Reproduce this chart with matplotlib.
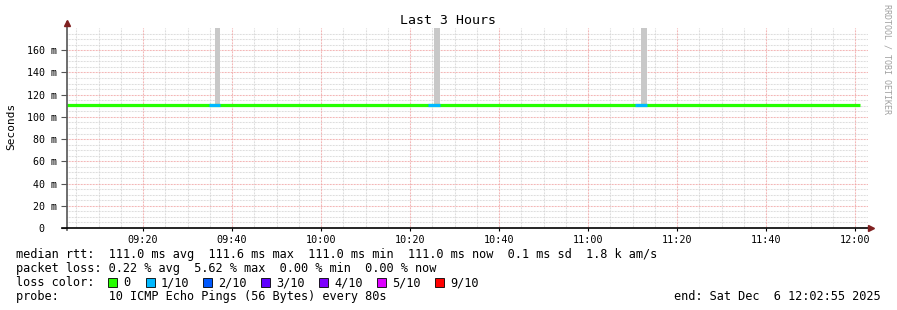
import matplotlib
matplotlib.use("Agg")
import matplotlib.pyplot as plt
from matplotlib.lines import Line2D
from matplotlib.patches import Rectangle

# ---------------- data ----------------
title = "Last 3 Hours"
y_label = "Seconds"
start_time = "09:02:55"
end_time = "12:02:55"
data_end_time = "12:01:05"
median_rtt_ms = 111.0
y_ticks_ms = [0, 20, 40, 60, 80, 100, 120, 140, 160]
y_tick_labels = ["0  ", "20 m", "40 m", "60 m", "80 m", "100 m", "120 m", "140 m", "160 m"]
x_tick_labels = ["09:20", "09:40", "10:00", "10:20", "10:40", "11:00", "11:20", "11:40", "12:00"]
# loss periods (1/10 loss)
loss_starts = ["09:34:50", "10:24:00", "11:10:35"]
loss_ends = ["09:37:20", "10:26:40", "11:13:20"]
# smoke (ping spread) spikes
smoke_starts = ["09:36:05", "10:25:25", "11:12:00"]
smoke_ends = ["09:37:20", "10:26:40", "11:13:20"]
smoke_max_ms = [400.0, 400.0, 400.0]

legend_colors = ["#26ff00", "#00b8ff", "#0059ff", "#5e00ff", "#7e00ff", "#dd00ff", "#ff0000"]
legend_labels = ["0", "1/10", "2/10", "3/10", "4/10", "5/10", "9/10"]

stats_rtt = "median rtt:  111.0 ms avg  111.6 ms max  111.0 ms min  111.0 ms now  0.1 ms sd  1.8 k am/s"
stats_loss = "packet loss: 0.22 % avg  5.62 % max  0.00 % min  0.00 % now"
probe_text = "probe:       10 ICMP Echo Pings (56 Bytes) every 80s"
end_text = "end: Sat Dec  6 12:02:55 2025"
watermark = "RRDTOOL / TOBI OETIKER"


def tmin(s):
    p = [int(v) for v in s.split(":")]
    while len(p) < 3:
        p.append(0)
    return p[0] * 60 + p[1] + p[2] / 60.0


W, H = 897, 310
fig = plt.figure(figsize=(W / 100, H / 100), dpi=100)
fig.patch.set_facecolor("white")

L, R, T, B = 67, 868, 28, 228


def fx(x):
    return x / W


def fy(y):
    return 1 - y / H


ax = fig.add_axes([fx(L), fy(B), fx(R) - fx(L), fy(T) - fy(B)])
ax.set_facecolor("white")
x0, x1 = tmin(start_time), tmin(end_time)
ax.set_xlim(x0, x1)
ax.set_ylim(0, 180)

mono = "DejaVu Sans Mono"

# grid
xt = [tmin(s) for s in x_tick_labels]
minor_x = [t for t in range(int(x0) + 1, int(x1) + 1) if t % 5 == 0 and t not in xt]
minor_y = [v for v in range(5, 180, 5) if v % 20 != 0]
dots = (0, (0.72, 0.72))
for t in minor_x:
    ax.axvline(t, color="#d4d4d4", lw=0.75, ls=dots, zorder=1)
for v in minor_y:
    ax.axhline(v, color="#d4d4d4", lw=0.75, ls=dots, zorder=1)
for t in xt:
    ax.axvline(t, color="#f0a0a0", lw=0.75, ls=dots, zorder=1.5)
for v in y_ticks_ms[1:]:
    ax.axhline(v, color="#f0a0a0", lw=0.75, ls=dots, zorder=1.5)

# smoke
for s, e, m in zip(smoke_starts, smoke_ends, smoke_max_ms):
    ax.fill_between([tmin(s), tmin(e)], [median_rtt_ms] * 2, [m] * 2,
                    color="#c8c8c8", lw=0, zorder=2)

# median line
ax.plot([x0, tmin(data_end_time)], [median_rtt_ms] * 2, color=legend_colors[0],
        lw=2.3, solid_capstyle="butt", zorder=3)
for s, e in zip(loss_starts, loss_ends):
    ax.plot([tmin(s), tmin(e)], [median_rtt_ms] * 2, color=legend_colors[1],
            lw=2.3, solid_capstyle="butt", zorder=4)

for sp in ax.spines.values():
    sp.set_visible(False)

ax.set_xticks(xt)
ax.set_xticklabels(x_tick_labels, fontfamily=mono, fontsize=7.3)
ax.set_yticks(y_ticks_ms)
ax.set_yticklabels(y_tick_labels, fontfamily=mono, fontsize=7.2)
ax.tick_params(axis="x", length=2, pad=3, color="#000000")
ax.tick_params(axis="y", length=4, pad=3, color="#555555")

# axes lines + arrows
fig.add_artist(Line2D([fx(L), fx(L)], [fy(B + 2), fy(22)], color="#555555", lw=1.2))
fig.add_artist(Line2D([fx(62), fx(870)], [fy(B), fy(B)], color="#000000", lw=1.2))
fig.add_artist(Line2D([fx(L)], [fy(23)], marker="^", ms=5, color="#802020", lw=0))
fig.add_artist(Line2D([fx(871)], [fy(B)], marker=">", ms=5, color="#802020", lw=0))

fig.text(fx(448), fy(24), title, ha="center", va="baseline",
         fontfamily=mono, fontsize=9.5)
fig.text(fx(11), fy(126), y_label, rotation=90, ha="center", va="center",
         fontfamily=mono, fontsize=8)
fig.text(fx(887), fy(4), watermark, rotation=270, ha="center", va="top",
         fontfamily=mono, fontsize=6.0, color="#a0a0a0")

fs = 8.55
fig.text(fx(16), fy(258), stats_rtt, fontfamily=mono, fontsize=fs, va="baseline")
fig.text(fx(16), fy(272), stats_loss, fontfamily=mono, fontsize=fs, va="baseline")
fig.text(fx(16), fy(286), "loss color:", fontfamily=mono, fontsize=fs, va="baseline")
sq_x = [108, 146, 203, 261, 319, 377, 435]
for x, c, lab in zip(sq_x, legend_colors, legend_labels):
    fig.add_artist(Rectangle((fx(x), fy(287)), 9 / W, 9 / H, facecolor=c,
                             edgecolor="black", lw=0.6, transform=fig.transFigure))
    fig.text(fx(x + 15), fy(286), lab, fontfamily=mono, fontsize=fs, va="baseline")
fig.text(fx(16), fy(300), probe_text, fontfamily=mono, fontsize=fs, va="baseline")
fig.text(fx(881), fy(300), end_text, fontfamily=mono, fontsize=fs, va="baseline", ha="right")

fig.savefig("out.png", dpi=100, facecolor="white")
